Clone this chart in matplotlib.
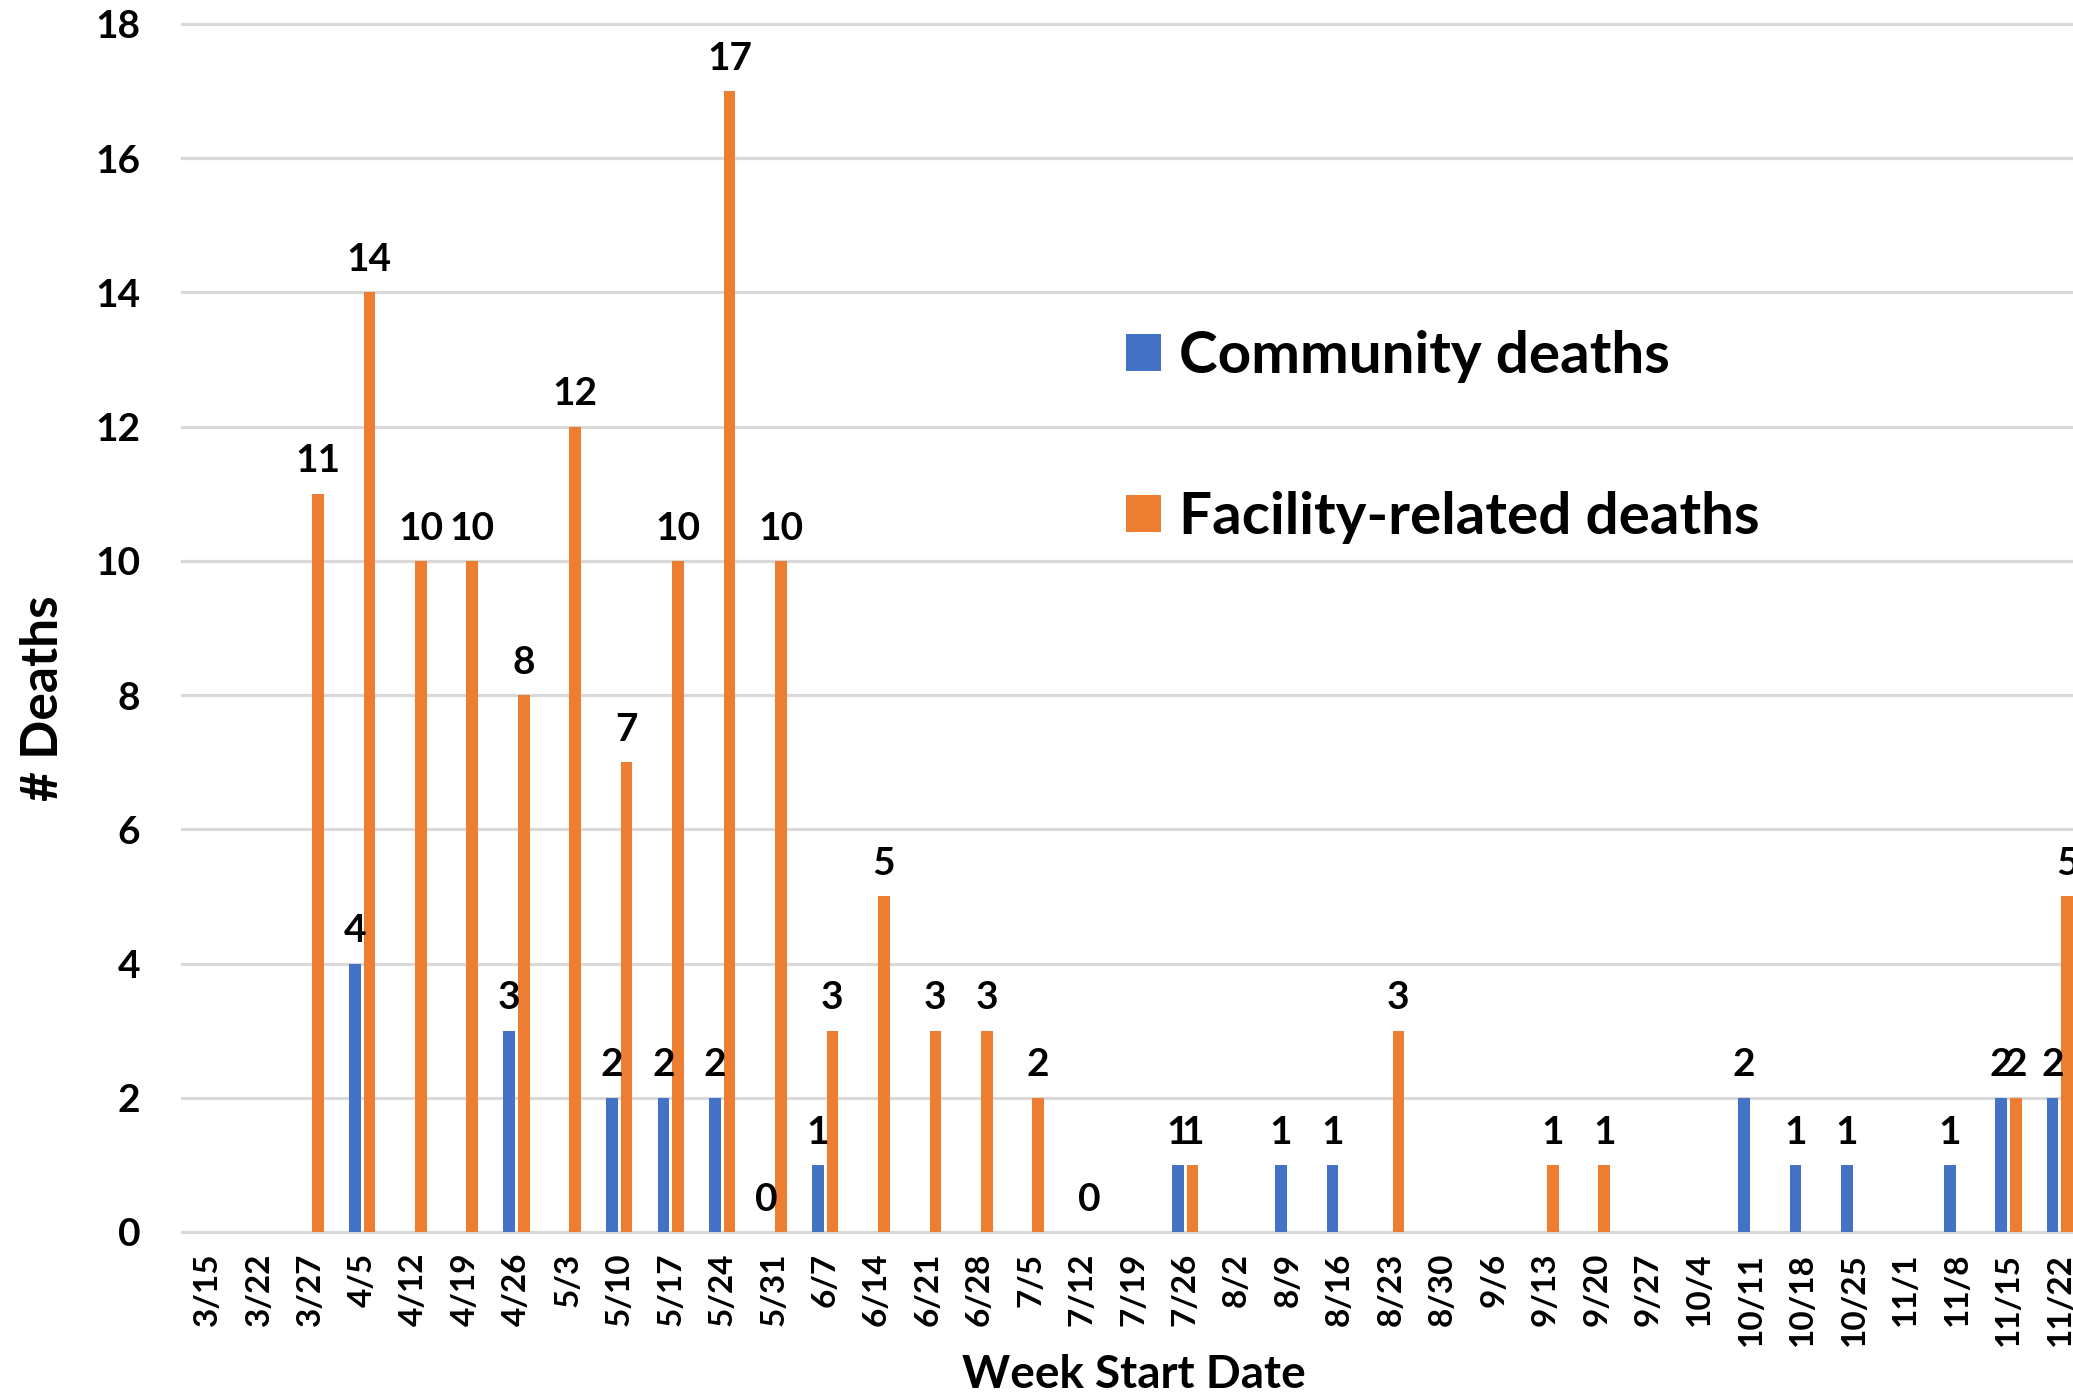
import numpy as np
import matplotlib
matplotlib.use("Agg")
import matplotlib.pyplot as plt

plt.rcParams['font.family'] = ['Lato', 'DejaVu Sans']
plt.rcParams['font.weight'] = 'bold'

weeks = ["3/15", "3/22", "3/27", "4/5", "4/12", "4/19", "4/26", "5/3", "5/10",
         "5/17", "5/24", "5/31", "6/7", "6/14", "6/21", "6/28", "7/5", "7/12",
         "7/19", "7/26", "8/2", "8/9", "8/16", "8/23", "8/30", "9/6", "9/13",
         "9/20", "9/27", "10/4", "10/11", "10/18", "10/25", "11/1", "11/8",
         "11/15", "11/22"]

nan = np.nan
community = [nan, nan, nan, 4, nan, nan, 3, nan, 2,
             2, 2, 0, 1, nan, nan, nan, nan, nan,
             nan, 1, nan, 1, 1, nan, nan, nan, nan,
             nan, nan, nan, 2, 1, 1, nan, 1,
             2, 2]
facility = [nan, nan, 11, 14, 10, 10, 8, 12, 7,
            10, 17, 10, 3, 5, 3, 3, 2, 0,
            nan, 1, nan, nan, nan, 3, nan, nan, 1,
            1, nan, nan, nan, nan, nan, nan, nan,
            2, 5]

series_names = ["Community deaths", "Facility-related deaths"]
colors = ["#4472C4", "#ED7D31"]
yticks = list(range(0, 19, 2))

W, H = 2073, 1393
fig = plt.figure(figsize=(W / 100, H / 100), dpi=100)
slot = 51.45
ax = fig.add_axes([182 / W, 1 - 1232 / H, len(weeks) * slot / W, (1232 - 24) / H])

x = np.arange(len(weeks))
bw = 0.225
off = 0.142
b1 = ax.bar(x - off, community, width=bw, color=colors[0], label=series_names[0], zorder=3)
b2 = ax.bar(x + off, facility, width=bw, color=colors[1], label=series_names[1], zorder=3)

def labs(vals):
    return ['' if np.isnan(v) else str(int(v)) for v in vals]

ax.bar_label(b1, labels=labs(community), padding=11, fontsize=28, fontweight='bold', color='black')
ax.bar_label(b2, labels=labs(facility), padding=11, fontsize=28, fontweight='bold', color='black')

ax.set_xlim(-0.5, len(weeks) - 0.5)
ax.set_ylim(0, 18)
ax.set_yticks(yticks)
ax.set_xticks(x, weeks, rotation=90)
for yv in yticks:
    ax.axhline(yv, color='#D9D9D9', lw=2.3, zorder=1, clip_on=False)

for s in ax.spines.values():
    s.set_visible(False)
ax.tick_params(axis='y', length=0, pad=30, labelsize=28)
ax.tick_params(axis='x', length=0, pad=15, labelsize=24)

fig.text(1134 / W, 1 - 1375 / H, "Week Start Date", ha='center', va='center', fontsize=33, fontweight='bold')
fig.text(44 / W, 1 - 698 / H, "# Deaths", ha='center', va='center', rotation=90, fontsize=37, fontweight='bold')

ax.legend(handles=[b1, b2], loc='center left', bbox_to_anchor=(1126 / W, 1 - 437 / H),
          bbox_transform=fig.transFigure, frameon=False, fontsize=42,
          handlelength=0.6, handleheight=0.6, handletextpad=0.31, labelspacing=1.84,
          borderpad=0, borderaxespad=0)

fig.savefig("out.png", dpi=100)
